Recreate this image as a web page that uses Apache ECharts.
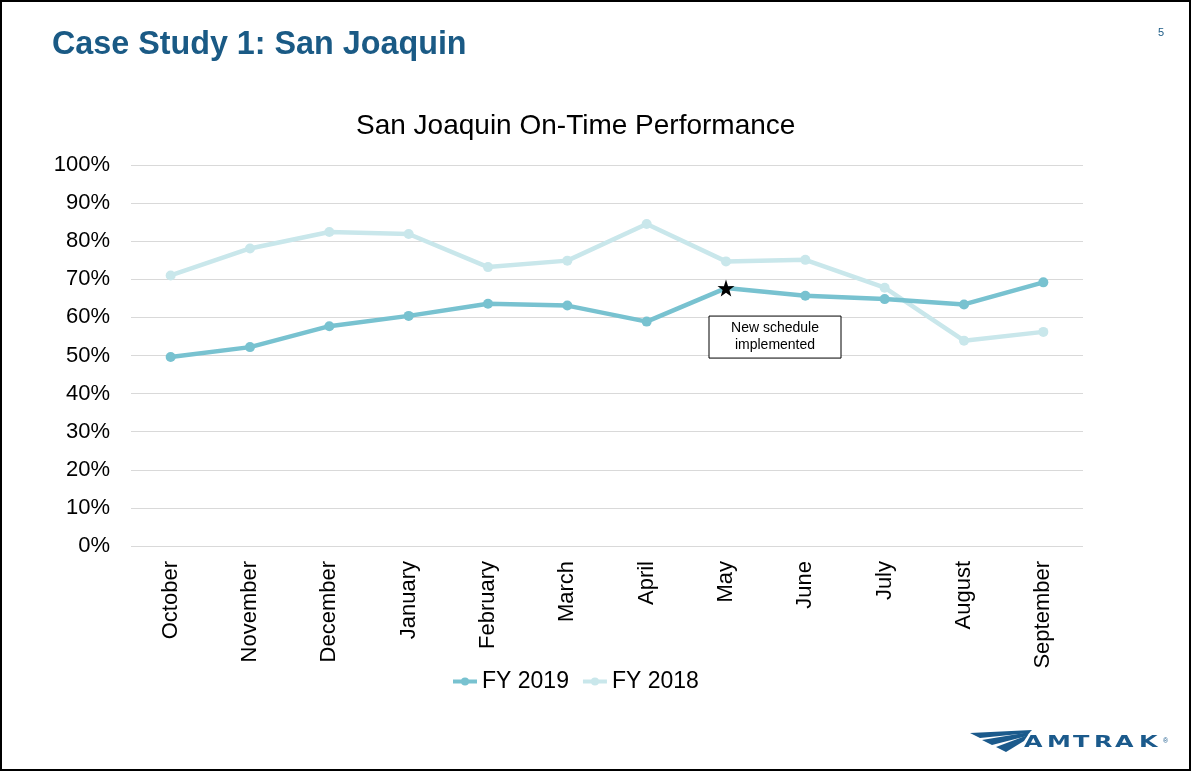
<!DOCTYPE html>
<html><head><meta charset="utf-8">
<script src="https://cdn.jsdelivr.net/npm/echarts@6/dist/echarts.min.js"></script>
<style>
html,body{margin:0;padding:0;background:#fff;}
#wrap{position:absolute;left:0;top:0;width:1191px;height:771px;box-sizing:border-box;border:2px solid #000;}
#c{position:absolute;left:0;top:0;width:1191px;height:771px;}
</style></head>
<body><div id="c"></div><div id="wrap"></div>
<script>
const months = ['October','November','December','January','February','March','April','May','June','July','August','September'];
const fy2019 = [49.6, 52.2, 57.7, 60.4, 63.6, 63.1, 58.9, 67.7, 65.7, 64.8, 63.4, 69.2];
const fy2018 = [71.0, 78.1, 82.4, 81.9, 73.2, 74.9, 84.5, 74.7, 75.1, 67.8, 53.9, 56.2];
const yTicks = [0,10,20,30,40,50,60,70,80,90,100];
const annotationIndex = 7;
const annotationText = 'New schedule\nimplemented';

const FONT = '"Liberation Sans", Arial, sans-serif';
const BLUE = '#1a5a85';
const LOGO = '#1b5a8c';
const starPath = 'path://M50,0 L61.8,35.1 L97.6,34.5 L69.1,56.2 L79.4,90.5 L50,70 L20.6,90.5 L30.9,56.2 L2.4,34.5 L38.2,35.1 Z';

const chart = echarts.init(document.getElementById('c'), null, {renderer:'canvas'});
const s2019 = fy2019.map((v,i)=> i===annotationIndex ? {value:v, symbol:starPath, symbolSize:17, itemStyle:{color:'#000'}} : v);

const option = {
  animation:false,
  backgroundColor:'#fff',
  title:[
    {text:'Case Study 1: San Joaquin', left:47, top:24, textStyle:{fontFamily:FONT, fontSize:32.3, fontWeight:'bold', color:BLUE}},
    {text:'San Joaquin On-Time Performance', left:351, top:107, textStyle:{fontFamily:FONT, fontSize:28, fontWeight:'normal', color:'#000'}},
    {text:'5', left:1153, top:22, textStyle:{fontFamily:FONT, fontSize:11, fontWeight:'normal', color:BLUE}}
  ],
  grid:{left:131, right:108, top:165, bottom:225, containLabel:false},
  legend:{
    top:665, left:446, itemWidth:24, itemHeight:10, itemGap:12,
    lineStyle:{width:4},
    textStyle:{fontFamily:FONT, fontSize:23, color:'#000'},
    data:['FY 2019','FY 2018']
  },
  xAxis:{
    type:'category', data:months, boundaryGap:true,
    axisLine:{show:false}, axisTick:{show:false},
    axisLabel:{rotate:90, fontFamily:FONT, fontSize:22, color:'#000', margin:15, interval:0}
  },
  yAxis:{
    type:'value', min:0, max:100, interval:10,
    axisLabel:{formatter:v=>v+'%', fontFamily:FONT, fontSize:22, color:'#000', margin:21},
    splitLine:{lineStyle:{color:'#d9d9d9', width:1}},
    axisLine:{show:false}, axisTick:{show:false}
  },
  series:[
    {name:'FY 2019', type:'line', data:s2019, symbol:'circle', symbolSize:10, z:3,
     lineStyle:{color:'#78c2d0', width:4.5}, itemStyle:{color:'#78c2d0'}},
    {name:'FY 2018', type:'line', data:fy2018, symbol:'circle', symbolSize:10, z:2,
     lineStyle:{color:'#c9e7eb', width:4.5}, itemStyle:{color:'#c9e7eb'}}
  ]
};
chart.setOption(option);

const p = chart.convertToPixel({xAxisIndex:0, yAxisIndex:0}, [annotationIndex, fy2019[annotationIndex]]);
const logoLetters = ['A','M','T','R','A','K'];
const logoX = [1024, 1047, 1073, 1094, 1115, 1139];
const letterEls = logoLetters.map((ch,i)=>({type:'text', x:logoX[i], y:736, scaleX:1.6,
  style:{text:ch, fontFamily:'"DejaVu Sans", sans-serif', fontSize:15, fontWeight:'bold', fill:LOGO, verticalAlign:'top'}}));
chart.setOption({graphic:[
  {type:'rect', shape:{x:p[0]-17, y:p[1]+28, width:132, height:42}, style:{fill:'#fff', stroke:'#000', lineWidth:1}, z:10},
  {type:'text', x:p[0]-17+66, y:p[1]+28+21, style:{text:annotationText, fontFamily:FONT, fontSize:14, fill:'#000', align:'center', verticalAlign:'middle', lineHeight:17}, z:11},
  {type:'group', z:20, children:[
    {type:'polygon', shape:{points:[[970,733],[1032,730],[1029,733],[980,738]]}, style:{fill:LOGO}},
    {type:'polygon', shape:{points:[[982,740],[1030,732],[1027,736],[992,745]]}, style:{fill:LOGO}},
    {type:'polygon', shape:{points:[[996,747],[1028,735],[1024,741],[1006,752]]}, style:{fill:LOGO}},
    ...letterEls,
    {type:'text', x:1163, y:738, style:{text:'®', fontFamily:FONT, fontSize:7, fill:LOGO, verticalAlign:'top'}}
  ]}
]});
</script>
</body></html>
